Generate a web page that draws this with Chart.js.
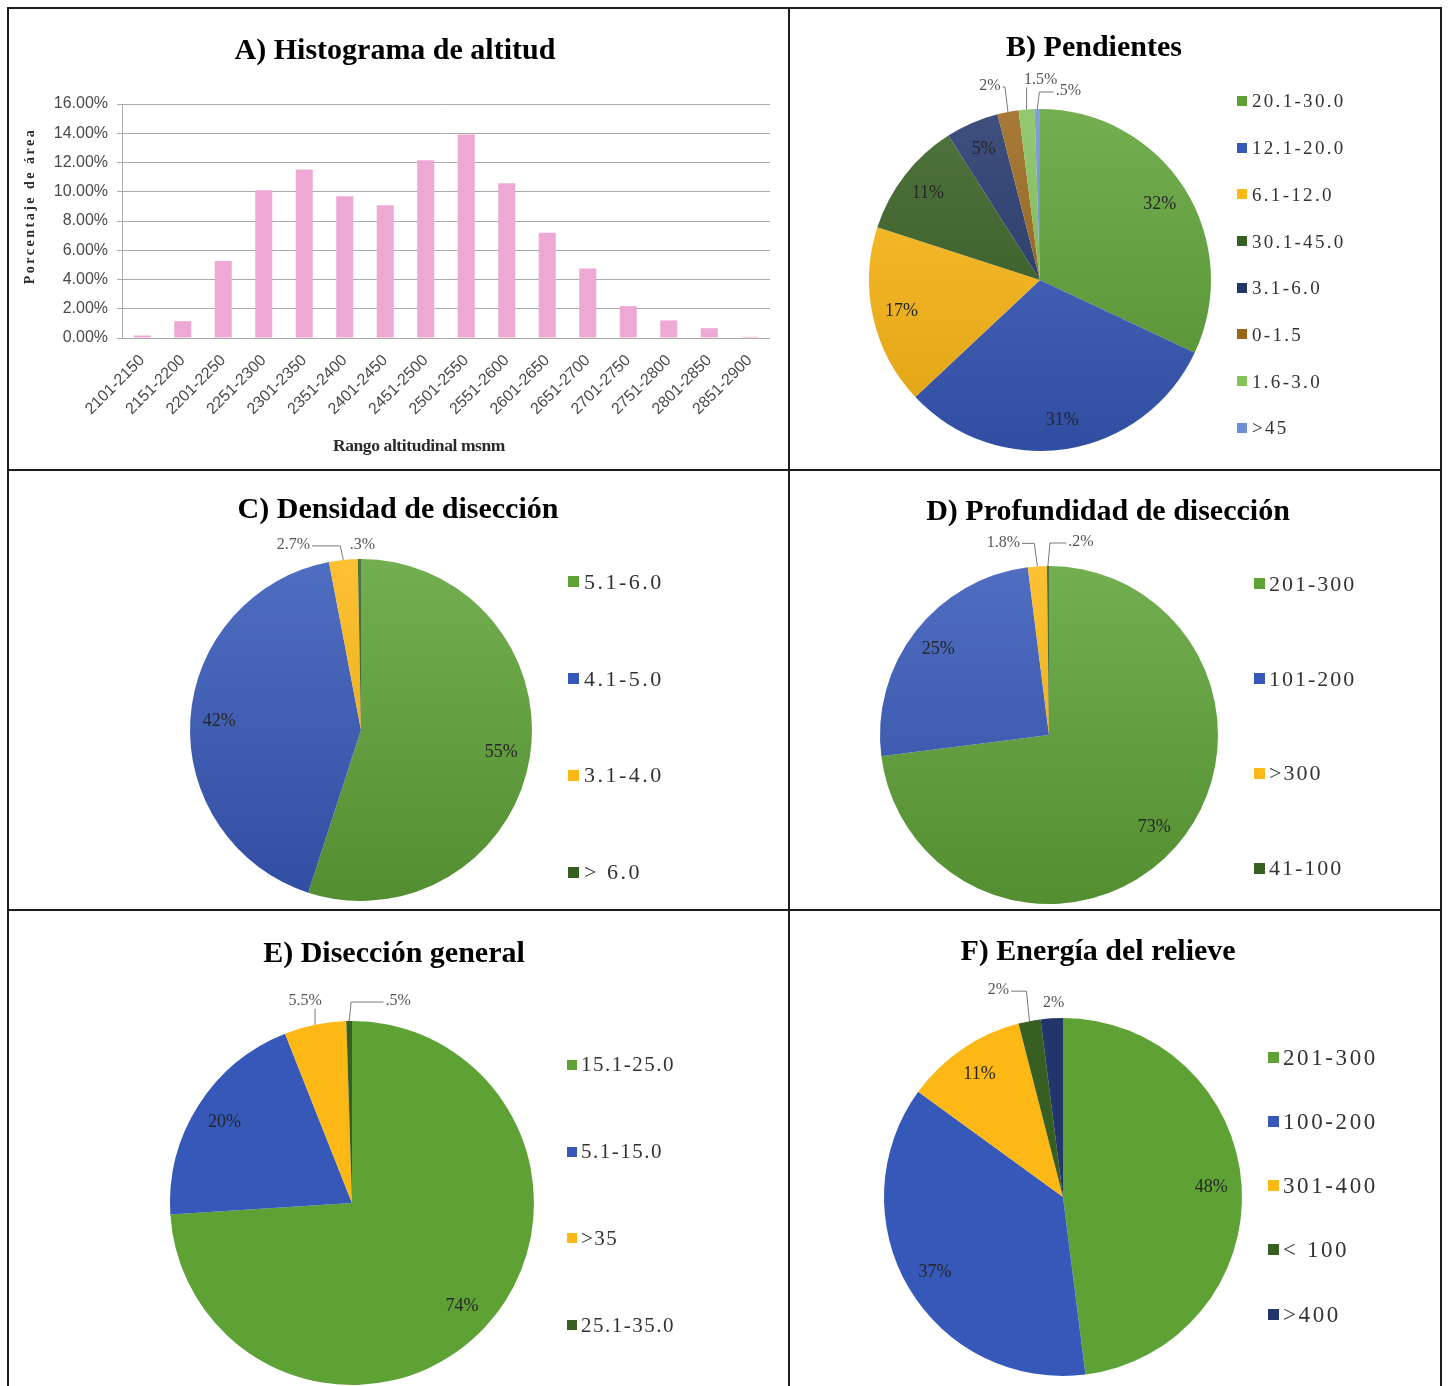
<!DOCTYPE html>
<html>
<head>
<meta charset="utf-8">
<script src="https://cdn.jsdelivr.net/npm/chart.js@4.4.1/dist/chart.umd.min.js"></script>
<style>
  html, body { margin: 0; padding: 0; background: #fff; overflow: hidden; }
  #page { position: relative; width: 1448px; height: 1386px; overflow: hidden; background: #fff; }
  .rule { position: absolute; background: #1c1c1c; z-index: 4; }
  canvas { position: absolute; z-index: 1; }
  .title { position: absolute; width: 640px; text-align: center; white-space: nowrap; z-index: 3;
           font: bold 30px/30px 'Liberation Serif', 'Times New Roman', serif; color: #000; }
  .legend { position: absolute; z-index: 3; font-family: 'Liberation Serif', 'Times New Roman', serif; color: #333; }
  .legend .item { display: flex; align-items: center; white-space: nowrap; }
  .legend .sw { display: inline-block; flex: none; }
  .legend .tx { line-height: 1; }
  .axis-title { position: absolute; z-index: 3; white-space: nowrap; text-align: center;
                font-family: 'Liberation Serif', 'Times New Roman', serif; font-weight: bold; color: #2b2b2b; }
</style>
</head>
<body>
<div id="page">
  <!-- panel frame -->
  <div class="rule" style="left:7px;top:7px;width:1435px;height:2px;"></div>
  <div class="rule" style="left:7px;top:7px;width:2px;height:1390px;"></div>
  <div class="rule" style="left:1440px;top:7px;width:2px;height:1390px;"></div>
  <div class="rule" style="left:788px;top:7px;width:2px;height:1390px;"></div>
  <div class="rule" style="left:7px;top:469px;width:1435px;height:2px;"></div>
  <div class="rule" style="left:7px;top:909px;width:1435px;height:2px;"></div>

  <div class="title" style="left:75px;top:34px;">A) Histograma de altitud</div>
  <div class="title" style="left:774px;top:31px;">B) Pendientes</div>
  <div class="title" style="left:78px;top:493px;">C) Densidad de disección</div>
  <div class="title" style="left:788px;top:495px;">D) Profundidad de disección</div>
  <div class="title" style="left:74px;top:937px;">E) Disección general</div>
  <div class="title" style="left:778px;top:935px;">F) Energía del relieve</div>

  <div class="axis-title" style="left:-70px;top:196px;width:200px;height:20px;line-height:20px;font-size:14px;letter-spacing:2.5px;transform:rotate(-90deg);">Porcentaje de área</div>
  <div class="axis-title" style="left:269px;top:434px;width:300px;height:22px;line-height:22px;font-size:17.5px;letter-spacing:-0.4px;">Rango altitudinal msnm</div>
</div>

<script>
// ---- A) altitude histogram ----
const altitudeRanges = ['2101-2150', '2151-2200', '2201-2250', '2251-2300', '2301-2350', '2351-2400',
  '2401-2450', '2451-2500', '2501-2550', '2551-2600', '2601-2650', '2651-2700',
  '2701-2750', '2751-2800', '2801-2850', '2851-2900'];
const altitudeShare = [0.17, 1.15, 5.26, 10.1, 11.52, 9.7, 9.08, 12.16, 13.92, 10.58, 7.2, 4.75, 2.18, 1.2, 0.67, 0.08];
const altitudeTickMax = 16;
const altitudeTickStep = 2;

// ---- B) slopes ----
const slopeClasses = ['20.1-30.0', '12.1-20.0', '6.1-12.0', '30.1-45.0', '3.1-6.0', '0-1.5', '1.6-3.0', '>45'];
const slopeShare = [32, 31, 17, 11, 5, 2, 1.5, 0.5];

// ---- C) dissection density ----
const densityClasses = ['5.1-6.0', '4.1-5.0', '3.1-4.0', '> 6.0'];
const densityShare = [55, 42, 2.7, 0.3];

// ---- D) dissection depth ----
const depthClasses = ['201-300', '101-200', '>300', '41-100'];
const depthShare = [73, 25, 1.8, 0.2];

// ---- E) general dissection ----
const dissectionClasses = ['15.1-25.0', '5.1-15.0', '>35', '25.1-35.0'];
const dissectionShare = [74, 20, 5.5, 0.5];

// ---- F) relief energy ----
const energyClasses = ['201-300', '100-200', '301-400', '< 100', '>400'];
const energyShare = [48, 37, 11, 2, 2];

// palette
const C = {
  green: '#5EA236', blue: '#3658B8', yellow: '#FDB815', darkGreen: '#375F22',
  navy: '#22366B', brown: '#9A6619', lightGreen: '#84C25A', lightBlue: '#6E8FD8'
};

const page = document.getElementById('page');

function makeCanvas(left, top, w, h) {
  const c = document.createElement('canvas');
  c.width = w; c.height = h;
  c.style.left = left + 'px'; c.style.top = top + 'px';
  c.style.width = w + 'px'; c.style.height = h + 'px';
  page.appendChild(c);
  return c;
}

function mix(hex, target, t) {
  const a = parseInt(hex.slice(1), 16), b = parseInt(target.slice(1), 16);
  const ch = (v, s) => (v >> s) & 255;
  const m = s => Math.round(ch(a, s) * (1 - t) + ch(b, s) * t);
  return 'rgb(' + m(16) + ',' + m(8) + ',' + m(0) + ')';
}

function pct(v) {
  return (Number.isInteger(v) ? String(v) : String(v).replace(/^0\./, '.')) + '%';
}

// Histogram
const histCanvas = makeCanvas(9, 9, 779, 460);
new Chart(histCanvas, {
  type: 'bar',
  data: {
    labels: altitudeRanges,
    datasets: [{
      data: altitudeShare,
      backgroundColor: '#EEA8D4',
      borderWidth: 0,
      barPercentage: 0.42,
      categoryPercentage: 1
    }]
  },
  options: {
    responsive: false,
    animation: false,
    devicePixelRatio: 1,
    layout: { padding: { top: 95, right: 18, left: 0, bottom: 0 } },
    plugins: { legend: { display: false }, tooltip: { enabled: false } },
    scales: {
      x: {
        grid: { display: false },
        border: { display: false },
        ticks: {
          autoSkip: false, maxRotation: 45, minRotation: 45, padding: 5,
          color: '#4a4a4a', font: { family: 'Liberation Sans', size: 16 }
        },
        afterFit: s => { s.height = 131; }
      },
      y: {
        min: 0, max: altitudeTickMax,
        ticks: {
          stepSize: altitudeTickStep, padding: 9,
          callback: v => v.toFixed(2) + '%',
          color: '#4a4a4a', font: { family: 'Liberation Sans', size: 16 }
        },
        grid: { color: '#ababab', lineWidth: 1, tickLength: 5 },
        border: { color: '#ababab' },
        afterFit: s => { s.width = 113; }
      }
    }
  }
});

// Percentage labels: inside the large slices, with leader lines for the thin ones
const sliceLabels = {
  id: 'sliceLabels',
  afterDatasetsDraw(chart, args, opts) {
    const { ctx } = chart;
    const meta = chart.getDatasetMeta(0);
    const values = chart.data.datasets[0].data;
    const callouts = opts.callouts || {};
    ctx.save();
    ctx.textAlign = 'center';
    ctx.textBaseline = 'middle';
    meta.data.forEach((arc, i) => {
      const { x, y, startAngle, endAngle, outerRadius } =
        arc.getProps(['x', 'y', 'startAngle', 'endAngle', 'outerRadius'], true);
      const mid = (startAngle + endAngle) / 2;
      const text = pct(values[i]);
      const co = callouts[i];
      if (!co) {
        const rr = outerRadius * opts.inset;
        ctx.font = '18px "Liberation Serif", serif';
        ctx.fillStyle = '#262626';
        ctx.fillText(text, x + Math.cos(mid) * rr, y + Math.sin(mid) * rr);
        return;
      }
      const px = x + Math.cos(mid) * outerRadius;
      const py = y + Math.sin(mid) * outerRadius;
      const lx = px + co[0], ly = py + co[1];
      ctx.font = '16px "Liberation Serif", serif';
      ctx.fillStyle = '#555';
      ctx.fillText(text, lx, ly);
      const w = ctx.measureText(text).width;
      ctx.strokeStyle = '#7a7a7a';
      ctx.lineWidth = 1;
      ctx.beginPath();
      if (Math.abs(lx - px) <= w / 2) {
        const top = ly + 8;
        if (py - top > 10) { ctx.moveTo(px, top); ctx.lineTo(px, py); }
      } else if (lx < px) {
        ctx.moveTo(lx + w / 2 + 2, ly + 1); ctx.lineTo(px - 3, ly + 1); ctx.lineTo(px, py);
      } else {
        ctx.moveTo(lx - w / 2 - 2, ly + 1); ctx.lineTo(px + 2, ly + 1); ctx.lineTo(px, py);
      }
      ctx.stroke();
    });
    ctx.restore();
  }
};

function sliceFill(colors, shaded) {
  return c => {
    const base = colors[c.dataIndex];
    const area = c.chart.chartArea;
    if (!shaded || !area) return base;
    const g = c.chart.ctx.createLinearGradient(0, area.top, 0, area.bottom);
    g.addColorStop(0, mix(base, '#ffffff', 0.13));
    g.addColorStop(1, mix(base, '#000000', 0.12));
    return g;
  };
}

function buildLegend(labels, colors, L) {
  const box = document.createElement('div');
  box.className = 'legend';
  box.style.left = L.x + 'px';
  box.style.top = (L.y - L.step / 2) + 'px';
  labels.forEach((lab, i) => {
    const row = document.createElement('div');
    row.className = 'item';
    row.style.height = L.step + 'px';
    const sw = document.createElement('span');
    sw.className = 'sw';
    sw.style.width = L.box + 'px';
    sw.style.height = L.box + 'px';
    sw.style.background = colors[i];
    sw.style.marginRight = L.gap + 'px';
    const tx = document.createElement('span');
    tx.className = 'tx';
    tx.textContent = lab;
    tx.style.fontSize = L.font + 'px';
    tx.style.letterSpacing = L.ls + 'px';
    row.append(sw, tx);
    box.appendChild(row);
  });
  page.appendChild(box);
}

const MARGIN = 50;
const pies = [
  { labels: slopeClasses, values: slopeShare,
    colors: [C.green, C.blue, C.yellow, C.darkGreen, C.navy, C.brown, C.lightGreen, C.lightBlue],
    cx: 1040, cy: 280, r: 171, shaded: true,
    callouts: { 5: [-18, -26], 6: [14, -30], 7: [31, -18] },
    legend: { x: 1237, y: 101, step: 46.7, font: 19, ls: 2.3, box: 10, gap: 5 } },
  { labels: densityClasses, values: densityShare,
    colors: [C.green, C.blue, C.yellow, C.darkGreen],
    cx: 361, cy: 730, r: 171, shaded: true,
    callouts: { 2: [-50, -15], 3: [3, -14] },
    legend: { x: 568, y: 582, step: 96.7, font: 22, ls: 2.5, box: 11, gap: 5 } },
  { labels: depthClasses, values: depthShare,
    colors: [C.green, C.blue, C.yellow, C.darkGreen],
    cx: 1049, cy: 735, r: 169, shaded: true,
    callouts: { 2: [-34, -24], 3: [33, -24] },
    legend: { x: 1254, y: 584, step: 94.7, font: 22, ls: 2.0, box: 11, gap: 4 } },
  { labels: dissectionClasses, values: dissectionShare,
    colors: [C.green, C.blue, C.yellow, C.darkGreen],
    cx: 352, cy: 1203, r: 182, shaded: false,
    callouts: { 2: [-10, -24], 3: [49, -20] },
    legend: { x: 567, y: 1065, step: 86.7, font: 21, ls: 1.5, box: 10, gap: 4 } },
  { labels: energyClasses, values: energyShare,
    colors: [C.green, C.blue, C.yellow, C.darkGreen, C.navy],
    cx: 1063, cy: 1197, r: 179, shaded: false,
    callouts: { 3: [-31, -31], 4: [2, -16] },
    legend: { x: 1268, y: 1057, step: 64.25, font: 23, ls: 2.6, box: 11, gap: 4 } }
];

pies.forEach(p => {
  const size = 2 * (p.r + MARGIN);
  const cv = makeCanvas(p.cx - p.r - MARGIN, p.cy - p.r - MARGIN, size, size);
  new Chart(cv, {
    type: 'pie',
    data: {
      labels: p.labels,
      datasets: [{ data: p.values, backgroundColor: sliceFill(p.colors, p.shaded), borderWidth: 0 }]
    },
    options: {
      responsive: false,
      animation: false,
      devicePixelRatio: 1,
      layout: { padding: MARGIN },
      plugins: {
        legend: { display: false },
        tooltip: { enabled: false },
        sliceLabels: { callouts: p.callouts, inset: 0.83 }
      }
    },
    plugins: [sliceLabels]
  });
  buildLegend(p.labels, p.colors, p.legend);
});
</script>
</body>
</html>
